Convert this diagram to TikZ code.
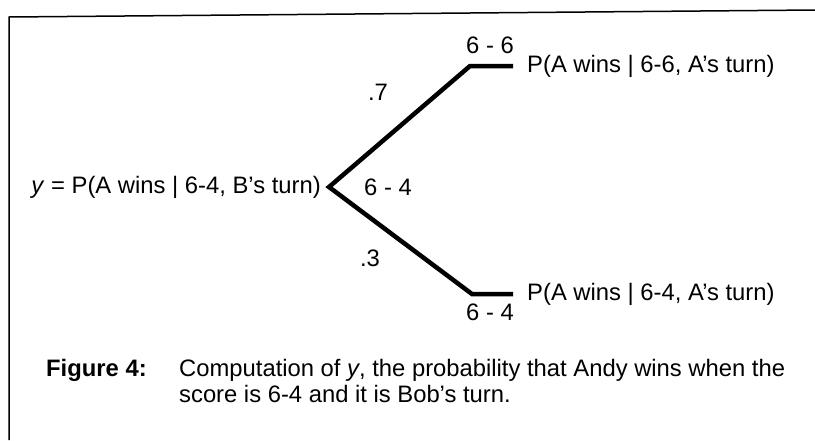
\documentclass[tikz,border=0pt]{standalone}
\usepackage{fontspec}
\setmainfont{Liberation Sans}
\begin{document}
\begin{tikzpicture}[x=1pt,y=-1pt,
  lbl/.style={inner sep=0pt,font=\fontsize{23.8}{28}\selectfont},
  captxt/.style={inner sep=0pt,font=\fontsize{23.8}{28}\selectfont,anchor=base west},
  branch/.style={line width=4.5pt,line join=miter,miter limit=20},
  frame/.style={line width=1.5pt}]
\useasboundingbox (0,0) rectangle (815,440);
\draw[frame] (9,440) -- (9,17) -- (815,10);
\coordinate (v) at (329,187);
\coordinate (u1) at (470,66);
\coordinate (u2) at (513,66);
\coordinate (l1) at (472,294);
\coordinate (l2) at (513,294);
\draw[branch] (u2) -- (u1) -- (v) -- (l1) -- (l2);
\node[lbl,anchor=east] (root) at (321,187) {\textit{y} = P(A wins | 6-4, B's turn)};
\node[lbl] (mid) at (388,187) {6 - 4};
\node[lbl] (p7) at (378,92) {.7};
\node[lbl] (p3) at (370,258) {.3};
\node[lbl] (s66) at (490,45) {6 - 6};
\node[lbl] (s64) at (490,312) {6 - 4};
\node[lbl,anchor=west] (top) at (527,66) {P(A wins | 6-6, A’s turn)};
\node[lbl,anchor=west] (bot) at (527,294) {P(A wins | 6-4, A’s turn)};
\node[captxt] (fig) at (46,376) {\textbf{Figure 4:}};
\node[captxt] (c1) at (179,376) {Computation of \textit{y}, the probability that Andy wins when the};
\node[captxt] (c2) at (179,402) {score is 6-4 and it is Bob's turn.};
\end{tikzpicture}
\end{document}
